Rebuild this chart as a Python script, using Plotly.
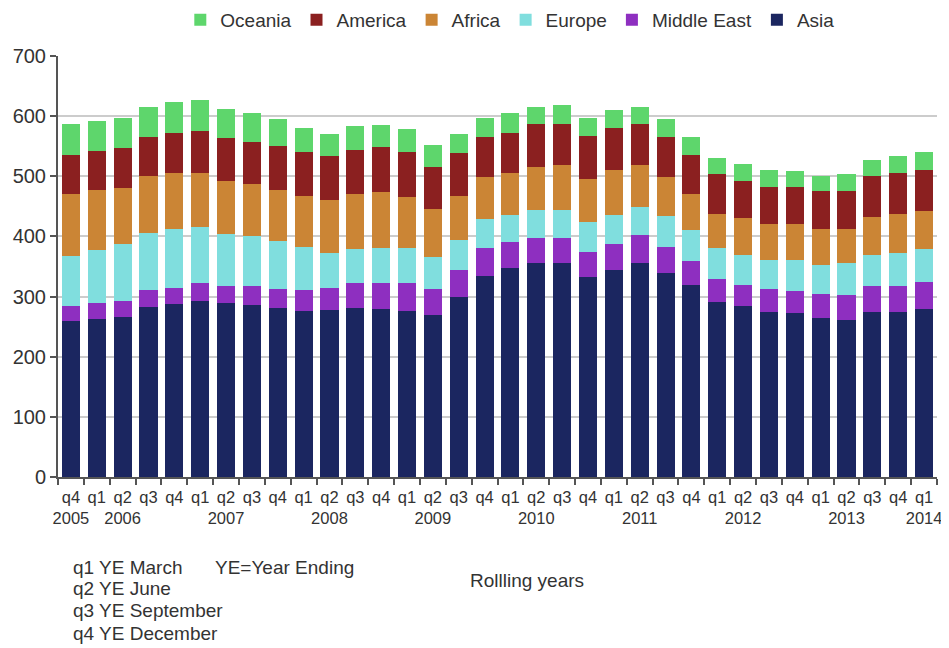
import plotly.graph_objects as go

quarters = ["q4", "q1", "q2", "q3", "q4", "q1", "q2", "q3", "q4", "q1", "q2", "q3",
            "q4", "q1", "q2", "q3", "q4", "q1", "q2", "q3", "q4", "q1", "q2", "q3",
            "q4", "q1", "q2", "q3", "q4", "q1", "q2", "q3", "q4", "q1"]
year_labels = ["2005", "", "2006", "", "", "", "2007", "", "", "", "2008", "",
               "", "", "2009", "", "", "", "2010", "", "", "", "2011", "",
               "", "", "2012", "", "", "", "2013", "", "", "2014"]

asia = [259, 263, 266, 283, 288, 293, 290, 286, 281, 276, 278, 281, 279, 276, 269, 300, 335,
        347, 355, 355, 332, 345, 355, 340, 320, 291, 284, 274, 272, 264, 261, 274, 274, 279]
middle_east = [25, 27, 27, 28, 27, 29, 28, 32, 32, 35, 37, 41, 43, 46, 44, 45, 45,
               43, 42, 42, 42, 43, 47, 42, 39, 39, 36, 39, 38, 41, 42, 44, 44, 46]
europe = [83, 87, 94, 95, 98, 94, 86, 83, 79, 72, 57, 57, 58, 58, 52, 49, 49,
          46, 47, 47, 50, 48, 47, 52, 52, 50, 49, 47, 50, 47, 52, 51, 54, 54]
africa = [103, 101, 93, 94, 92, 89, 88, 87, 86, 85, 89, 92, 94, 86, 80, 74, 69,
          69, 71, 74, 71, 74, 69, 64, 60, 58, 61, 61, 61, 61, 58, 64, 66, 64]
america = [65, 64, 67, 65, 67, 70, 71, 69, 73, 72, 72, 72, 74, 74, 70, 70, 67,
           67, 72, 69, 72, 70, 69, 67, 64, 65, 63, 62, 62, 62, 62, 67, 67, 67]
oceania = [52, 50, 50, 51, 52, 52, 49, 48, 44, 40, 37, 40, 37, 38, 37, 32, 32,
           33, 29, 32, 30, 30, 29, 30, 30, 27, 27, 27, 25, 25, 28, 27, 28, 30]

series = [
    ("Asia", asia, "#1B2660"),
    ("Middle East", middle_east, "#8E2FC0"),
    ("Europe", europe, "#80DEDE"),
    ("Africa", africa, "#CB8535"),
    ("America", america, "#8B2020"),
    ("Oceania", oceania, "#5ED66C"),
]

x = list(range(len(quarters)))
ticktext = [q + ("<br>" + y if y else "<br> ") for q, y in zip(quarters, year_labels)]

fig = go.Figure()
for name, vals, col in series:
    fig.add_trace(go.Bar(x=x, y=vals, name=name, marker=dict(color=col, line=dict(width=0))))

font_family = "Liberation Sans, Arial, sans-serif"
text_col = "#333333"

# page body has an 8px margin, so the figure is 8px smaller and margins shifted
fig.update_layout(
    barmode="stack",
    bargap=0.3,
    width=941, height=640,
    margin=dict(l=50, r=12, t=48, b=171, autoexpand=False),
    plot_bgcolor="white", paper_bgcolor="white",
    font=dict(family=font_family, color=text_col, size=19),
    showlegend=True,
    legend=dict(orientation="h", traceorder="reversed", x=0.514, xanchor="center",
                y=1.086, yanchor="middle", font=dict(size=19), itemwidth=30),
    xaxis=dict(
        tickmode="array", tickvals=x, ticktext=ticktext,
        range=[-0.5, len(x) - 0.5],
        showline=True, linecolor="#555", linewidth=2,
        ticks="", ticklabelstandoff=4,
        minor=dict(tickmode="linear", tick0=-0.5, dtick=1, ticks="outside",
                   ticklen=6, tickcolor="#555", tickwidth=1.5, showgrid=False),
        tickfont=dict(size=16.5), tickangle=0,
        showgrid=False, zeroline=False, automargin=False,
    ),
    yaxis=dict(
        range=[0, 700], dtick=100,
        showline=True, linecolor="#555", linewidth=2,
        ticks="outside", ticklen=6, tickcolor="#555", tickwidth=1.5,
        showgrid=True, gridcolor="#cccccc", gridwidth=1.5,
        zeroline=False, tickfont=dict(size=20), automargin=False,
    ),
)

ann_lines = ["q1 YE March", "q2 YE June", "q3 YE September", "q4 YE December"]
ys = [567, 588, 610, 633]
for t, py in zip(ann_lines, ys):
    fig.add_annotation(text=t, xref="paper", yref="paper",
                       x=(71 - 58) / 879, y=(477 - py) / 421,
                       xanchor="left", yanchor="middle", showarrow=False,
                       font=dict(size=19, color=text_col))
fig.add_annotation(text="YE=Year Ending", xref="paper", yref="paper",
                   x=(213 - 58) / 879, y=(477 - 567) / 421,
                   xanchor="left", yanchor="middle", showarrow=False,
                   font=dict(size=19, color=text_col))
fig.add_annotation(text="Rollling years", xref="paper", yref="paper",
                   x=(468 - 58) / 879, y=(477 - 580) / 421,
                   xanchor="left", yanchor="middle", showarrow=False,
                   font=dict(size=19, color=text_col))

fig.write_html("out.html")
